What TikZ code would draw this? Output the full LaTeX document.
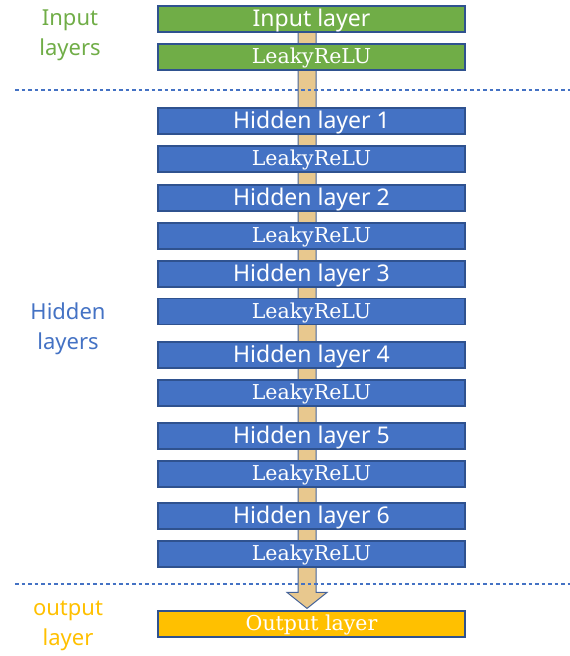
\documentclass[tikz,border=0pt]{standalone}
\usepackage{fontspec}
\newfontfamily\labelsans{Noto Sans}
\newfontfamily\actserif{DejaVu Serif}
\usetikzlibrary{calc,backgrounds}
\definecolor{ingreen}{HTML}{70AD47}
\definecolor{hidblue}{HTML}{4472C4}
\definecolor{outorange}{HTML}{FFC000}
\definecolor{edgeblue}{HTML}{2F528F}
\definecolor{flowtan}{HTML}{E8C88E}

\begin{document}
\begin{tikzpicture}[x=1pt, y=-1pt,
    layer/.style={rectangle, draw=edgeblue, line width=1.2pt, minimum width=307pt, minimum height=26pt, inner sep=0pt, text=white},
    named/.style={layer, font=\labelsans\fontsize{23}{23}\selectfont, text height=18pt, text depth=4pt},
    act/.style={layer, font=\actserif\fontsize{20.5}{20.5}\selectfont, text height=17pt, text depth=4pt},
    side/.style={align=center, font=\labelsans\fontsize{22}{30}\selectfont},
    sep/.style={draw=hidblue, line width=2.5pt, dash pattern=on 3.5pt off 3pt}]
    \useasboundingbox (0,0) rectangle (570,656);

    % Input layers
    \node[named, fill=ingreen] (in) at (311.5,19) {Input layer};
    \node[act, fill=ingreen] (act0) at (311.5,57) {LeakyReLU};

    % Hidden layers
    \node[named, fill=hidblue] (hid1) at (311.5,121) {Hidden layer 1};
    \node[act, fill=hidblue] (act1) at (311.5,159) {LeakyReLU};
    \node[named, fill=hidblue] (hid2) at (311.5,198) {Hidden layer 2};
    \node[act, fill=hidblue] (act2) at (311.5,236) {LeakyReLU};
    \node[named, fill=hidblue] (hid3) at (311.5,274) {Hidden layer 3};
    \node[act, fill=hidblue] (act3) at (311.5,311.5) {LeakyReLU};
    \node[named, fill=hidblue] (hid4) at (311.5,355) {Hidden layer 4};
    \node[act, fill=hidblue] (act4) at (311.5,393) {LeakyReLU};
    \node[named, fill=hidblue] (hid5) at (311.5,436) {Hidden layer 5};
    \node[act, fill=hidblue] (act5) at (311.5,474) {LeakyReLU};
    \node[named, fill=hidblue] (hid6) at (311.5,516) {Hidden layer 6};
    \node[act, fill=hidblue] (act6) at (311.5,554) {LeakyReLU};

    % Output layer
    \node[act, fill=outorange] (out) at (311.5,624) {Output layer};

    % side labels
    \node[side, text=ingreen] (inlab) at (70,35) {Input\\layers};
    \node[side, text=hidblue] (hidlab) at (68,329) {Hidden\\layers};
    \node[side, text=outorange] (outlab) at (68,626) {output\\layer};

    % separators
    \coordinate (sepA) at (15,90);
    \coordinate (sepB) at (570,90);
    \coordinate (sepC) at (15,584);
    \coordinate (sepD) at (570,584);
    \draw[sep] (sepA) -- (sepB);
    \draw[sep] (sepC) -- (sepD);

    % data flow arrow behind the layers
    \begin{pgfonlayer}{background}
        \coordinate (top) at ($(in.center)+(-4.5,0)$);
        \coordinate (tip) at ($(out.north)+(-4.5,-2)$);
        \draw[draw=edgeblue!90, line width=1pt, fill=flowtan]
            ($(top)+(-9,0)$) -- ($(tip)+(-9,-16)$) -- ($(tip)+(-20,-16)$) -- (tip)
            -- ($(tip)+(20,-16)$) -- ($(tip)+(9,-16)$) -- ($(top)+(9,0)$) -- cycle;
    \end{pgfonlayer}
\end{tikzpicture}
\end{document}
